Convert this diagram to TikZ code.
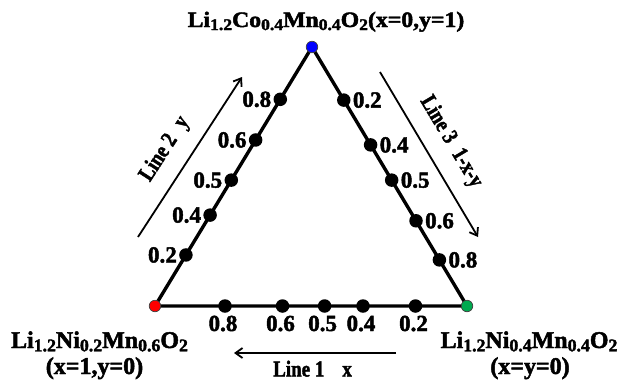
\documentclass[tikz,border=0pt]{standalone}
\usepackage{fontspec}
\usepackage{graphicx}
\setmainfont{Liberation Serif}
\newfontfamily\heavy[FakeBold=2]{Liberation Serif Bold}
\usetikzlibrary{arrows.meta,calc}
\newcommand\sbx[1]{\raisebox{-0.3ex}{\scalebox{0.74}{#1}}}
\definecolor{endred}{RGB}{255,0,0}
\definecolor{endblue}{RGB}{0,0,255}
\definecolor{endgreen}{RGB}{0,170,80}
\begin{document}
\begin{tikzpicture}[x=1pt,y=-1pt,
  edge/.style={line width=3.4pt, line join=round},
  dot/.style={circle, fill=black, inner sep=0pt, minimum size=13.5pt},
  enddot/.style={circle, draw=black!75, line width=0.7pt, inner sep=0pt, minimum size=11.5pt},
  num/.style={font=\heavy\fontsize{23}{23}\selectfont, inner sep=0pt},
  formula/.style={font=\heavy\fontsize{24}{24}\selectfont, inner sep=0pt},
  linelbl/.style={font=\heavy\fontsize{19}{19}\selectfont, inner sep=0pt},
  dirarrow/.style={line width=1.8pt, -{Straight Barb[length=7pt,width=10pt]}}]
\useasboundingbox (0,0) rectangle (621,381);
% vertices
\coordinate (A) at (312,47);
\coordinate (B) at (155,306);
\coordinate (C) at (467,306);
\draw[edge] (A) -- (B) -- (C) -- cycle;
% left edge (Line 2, y)
\foreach \t/\lab/\n in {0.197/0.2/L2, 0.351/0.4/L4, 0.486/0.5/L5, 0.641/0.6/L6, 0.798/0.8/L8}{
  \node[dot] (\n) at ($(B)!\t!(A)$) {};
  \node[num, anchor=east] (\n lab) at ([xshift=-2pt]\n.west) {\lab};
}
% right edge (Line 3, 1-x-y)
\foreach \t/\lab/\n in {0.205/0.2/R2, 0.378/0.4/R4, 0.514/0.5/R5, 0.671/0.6/R6, 0.822/0.8/R8}{
  \node[dot] (\n) at ($(A)!\t!(C)$) {};
  \node[num, anchor=west] (\n lab) at ([xshift=2pt]\n.east) {\lab};
}
% bottom edge (Line 1, x)
\foreach \xx/\lab/\n in {225/0.8/B8, 282.5/0.6/B6, 324.6/0.5/B5, 363/0.4/B4, 415.5/0.2/B2}{
  \node[dot] (\n) at (\xx,306) {};
  \node[num, anchor=base] (\n lab) at (\xx-2,331) {\lab};
}
% end points
\node[enddot, fill=endblue] (top) at (A) {};
\node[enddot, fill=endred] (left) at (B) {};
\node[enddot, fill=endgreen] (right) at (C) {};
% compositions
\node[formula, anchor=base, font=\heavy\fontsize{22}{22}\selectfont] (title) at (326,27)
  {\scalebox{1.08}[1]{Li\sbx{1.2}Co\sbx{0.4}Mn\sbx{0.4}O\sbx{2}(x=0,y=1)}};
\node[formula, anchor=base] (lf1) at (99.5,348) {Li\sbx{1.2}Ni\sbx{0.2}Mn\sbx{0.6}O\sbx{2}};
\node[formula, anchor=base] (lf2) at (94.5,374) {(x=1,y=0)};
\node[formula, anchor=base] (rf1) at (529,348) {Li\sbx{1.2}Ni\sbx{0.4}Mn\sbx{0.4}O\sbx{2}};
\node[formula, anchor=base] (rf2) at (530,374) {(x=y=0)};
% direction arrows
\coordinate (l1s) at (396,353);
\coordinate (l1e) at (234,353);
\draw[dirarrow] (l1s) -- (l1e);
\node[linelbl, anchor=base west] (l1lab) at (273,376.5) {\scalebox{1}[1.2]{Line 1\hspace{18pt}x}};
\coordinate (l2s) at (138,237);
\coordinate (l2e) at (242,77);
\draw[dirarrow] (l2s) -- (l2e);
\node[linelbl, rotate=57.1] (l2lab) at (165,149) {\scalebox{1}[1.2]{Line 2\hspace{12pt}y}};
\coordinate (l3s) at (380,72);
\coordinate (l3e) at (478,237);
\draw[dirarrow] (l3s) -- (l3e);
\node[linelbl, rotate=-59.2] (l3lab) at (451,142) {\scalebox{1}[1.2]{Line 3\hspace{10pt}1-x-y}};
\end{tikzpicture}
\end{document}
